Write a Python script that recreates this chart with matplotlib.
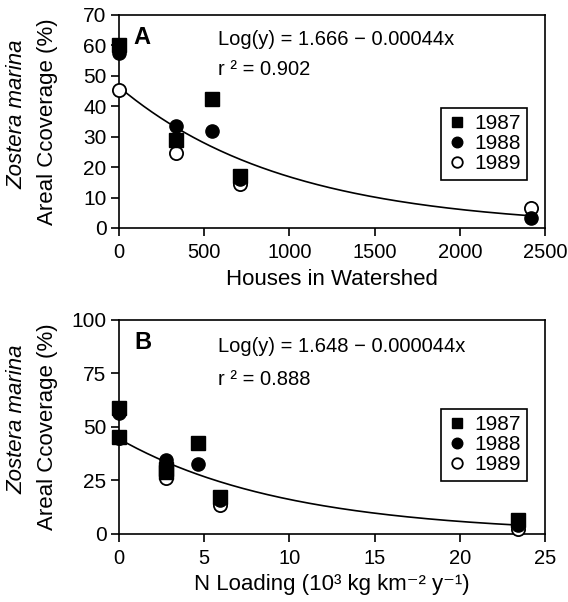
import numpy as np
import matplotlib.pyplot as plt

plt.rcParams['font.family'] = ['Liberation Sans', 'DejaVu Sans']
plt.rcParams['axes.linewidth'] = 1.2
plt.rcParams['xtick.major.width'] = 1.2
plt.rcParams['ytick.major.width'] = 1.2

# ---------- panel A: houses in watershed ----------
houses = [0, 335, 545, 710, 2415]
a_1987 = [60, 29, 42.5, 17, np.nan]
a_1988 = [57.5, 33.5, 32, 16, 3.2]
a_1989 = [45.5, 24.5, np.nan, 14.5, 6.6]
a_coef = (1.666, 0.00044)

# ---------- panel B: N loading ----------
n_load = [0, 2.75, 4.65, 5.95, 23.4]
b_1987 = [59, 30.5, 42.5, 17.5, 6.5]
b_1987b = [45.5, 29, np.nan, np.nan, np.nan]
b_1988 = [56.5, 34.5, 32.5, 16, 4]
b_1989 = [45, 26, np.nan, 13.5, 2.5]
b_coef = (1.648, 0.000044)

fig = plt.figure(figsize=(5.68, 6.02), dpi=100)
axA = fig.add_axes([0.2095, 0.6213, 0.750, 0.3538])
axB = fig.add_axes([0.2095, 0.1130, 0.750, 0.3555])

ms = 9.5
def draw(ax, x, y87, y88, y89, extra=None):
    ax.plot(x, y89, 'o', mfc='white', mec='black', mew=1.3, ms=ms, clip_on=False, zorder=3, label='1989')
    ax.plot(x, y87, 's', color='black', ms=ms, clip_on=False, zorder=4, label='1987')
    if extra is not None:
        ax.plot(x, extra, 's', color='black', ms=ms, clip_on=False, zorder=4)
    ax.plot(x, y88, 'o', color='black', ms=ms, clip_on=False, zorder=5, label='1988')

# fitted curves
xa = np.linspace(0, 2415, 200)
axA.plot(xa, 10 ** (a_coef[0] - a_coef[1] * xa), color='black', lw=1.2, zorder=2)
xb = np.linspace(0, 23.4, 200)
axB.plot(xb, 10 ** (b_coef[0] - b_coef[1] * 1000 * xb), color='black', lw=1.2, zorder=2)

draw(axA, houses, a_1987, a_1988, a_1989)
draw(axB, n_load, b_1987, b_1988, b_1989, extra=b_1987b)

axA.set_xlim(0, 2500)
axA.set_ylim(0, 70)
axA.set_xticks(range(0, 2501, 500))
axA.set_yticks(range(0, 71, 10))
axB.set_xlim(0, 25)
axB.set_ylim(0, 100)
axB.set_xticks(range(0, 26, 5))
axB.set_yticks([0, 25, 50, 75, 100])

for ax, leg_top in ((axA, 0.563), (axB, 0.584)):
    ax.tick_params(direction='out', length=6)
    ax.tick_params(axis='x', pad=5, labelsize=14.5)
    ax.tick_params(axis='y', pad=3, labelsize=15)
    # two-line y label placed in figure pixels
    pos = ax.get_position()
    yc = pos.y0 + pos.height * 0.5
    fig.text(17 / 568, yc + 0.012, 'Zostera marina', rotation=90, ha='center', va='center',
             fontsize=16, style='italic')
    fig.text(48 / 568, yc, 'Areal Ccoverage (%)', rotation=90, ha='center', va='center',
             fontsize=16)
    h, l = ax.get_legend_handles_labels()
    order = [l.index('1987'), l.index('1988'), l.index('1989')]
    leg = ax.legend([h[i] for i in order], [l[i] for i in order], loc='upper left',
                    bbox_to_anchor=(0.755, leg_top), fontsize=15, handlelength=1.0,
                    handletextpad=0.3, borderpad=0.3, labelspacing=0.05,
                    fancybox=False, edgecolor='black', framealpha=1, markerscale=0.8,
                    borderaxespad=0)
    leg.get_frame().set_linewidth(1.2)

axA.set_xlabel('Houses in Watershed', fontsize=16, labelpad=5)
axB.set_xlabel('N Loading (10³ kg km⁻² y⁻¹)', fontsize=16, labelpad=4)

axA.text(0.035, 0.95, 'A', transform=axA.transAxes, fontsize=17, fontweight='bold', va='top')
axB.text(0.035, 0.95, 'B', transform=axB.transAxes, fontsize=17, fontweight='bold', va='top')
axA.text(0.232, 0.883, 'Log(y) = 1.666 \u2212 0.00044x', transform=axA.transAxes, fontsize=14.5, va='center')
axA.text(0.232, 0.742, 'r \u00b2 = 0.902', transform=axA.transAxes, fontsize=14.5, va='center')
axB.text(0.232, 0.874, 'Log(y) = 1.648 \u2212 0.000044x', transform=axB.transAxes, fontsize=14.5, va='center')
axB.text(0.232, 0.72, 'r \u00b2 = 0.888', transform=axB.transAxes, fontsize=14.5, va='center')

fig.savefig('out.png', dpi=100)
